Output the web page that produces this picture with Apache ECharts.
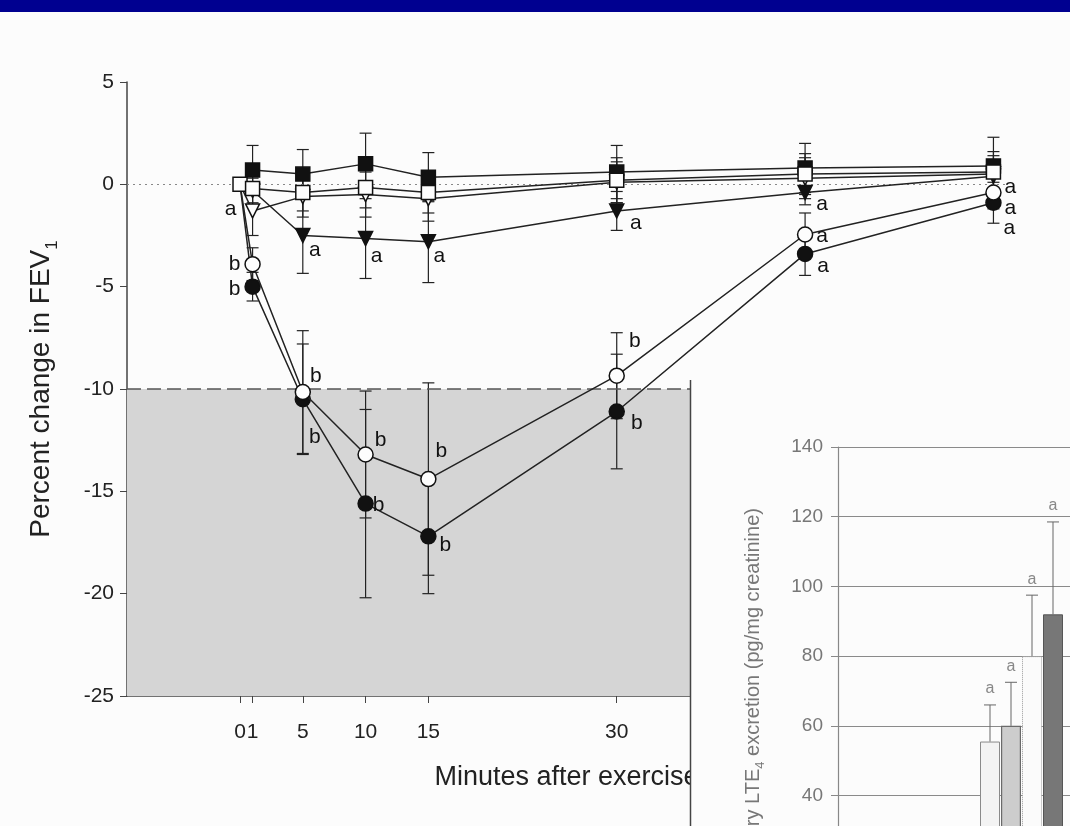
<!DOCTYPE html>
<html><head><meta charset="utf-8">
<script src="https://cdn.jsdelivr.net/npm/echarts@6/dist/echarts.min.js"></script>
<style>html,body{margin:0;padding:0;background:#fcfcfc}#c{width:1070px;height:826px}</style>
</head><body><div id="c"></div>
<script>
// ---------- DATA ----------
const minutes = [0, 1, 5, 10, 15, 30, 45, 60];
const xTickValues = [0, 1, 5, 10, 15, 30, 45, 60];

const filledSquare    = [0, 0.7, 0.5, 1.0, 0.35, 0.6, 0.8, 0.9];
const filledSquareErr = [0, 1.2, 1.2, 1.5, 1.2, 1.3, 1.2, 1.4];
const filledSquareSig = ['', '', '', '', '', '', '', ''];

const openSquare    = [0, -0.2, -0.4, -0.15, -0.4, 0.2, 0.5, 0.6];
const openSquareErr = [0, 0.8, 0.9, 1.0, 1.0, 1.1, 1.0, 1.0];
const openSquareSig = ['', '', '', '', '', '', '', ''];

const openTri    = [0, -1.3, -0.6, -0.5, -0.7, 0.1, 0.3, 0.5];
const openTriErr = [0, 1.2, 1.0, 1.1, 1.1, 1.0, 1.0, 0.9];
const openTriSig = ['', 'a', '', '', '', '', '', ''];

const filledTri    = [0, -0.3, -2.5, -2.65, -2.8, -1.3, -0.4, 0.4];
const filledTriErr = [0, 0.6, 1.85, 1.95, 2.0, 0.95, 0.6, 0.6];
const filledTriSig = ['', '', 'a', 'a', 'a', 'a', 'a', 'a'];

const openCircle    = [0, -3.9, -10.15, -13.2, -14.4, -9.35, -2.45, -0.4];
const openCircleErr = [0, 0.8, 3.0, 3.1, 4.7, 2.1, 1.05, 0.8];
const openCircleSig = ['', 'b', 'b', 'b', 'b', 'b', 'a', 'a'];

const filledCircle    = [0, -5.0, -10.5, -15.6, -17.2, -11.1, -3.4, -0.9];
const filledCircleErr = [0, 0.7, 2.7, 4.6, 2.8, 2.8, 1.05, 1.0];
const filledCircleSig = ['', 'b', 'b', 'b', 'b', 'b', 'a', 'a'];

const thresholdFEV = -10;

// inset bar chart
const insetCategories = ['Post-exercise'];
const insetValues = [55.5, 60, 80, 92];
const insetErr    = [10.5, 12.5, 17.5, 26.5];
const insetSig    = ['a', 'a', 'a', 'a'];

// ---------- STYLE / LAYOUT ----------
const FONT = 'Liberation Sans, Arial, sans-serif';
const labelOffsets = {
  openTri:      [null, [-22, -2], null, null, null, null, null, null],
  filledTri:    [null, null, [12, 15], [11, 18], [11, 15], [19, 12], [17, 12], [17, 11]],
  openCircle:   [null, [-18, 0], [13, -16], [15, -14], [13, -28], [18, -34], [17, 2], [17, 16]],
  filledCircle: [null, [-18, 3], [12, 38], [13, 2], [17, 9], [20, 12], [18, 12], [16, 25]]
};

function lineSeries(key, vals, sig, symbol, filled, rotate, z, hideFirst) {
  const offs = labelOffsets[key] || [];
  return {
    type: 'line', xAxisIndex: 0, yAxisIndex: 0, z: z,
    symbol: symbol, symbolSize: symbol === 'circle' ? 15 : 14, symbolRotate: rotate,
    itemStyle: { color: filled ? '#111' : '#fdfdfd', borderColor: '#111', borderWidth: 1.5 },
    lineStyle: { color: '#222', width: 1.5 },
    emphasis: { disabled: true }, animation: false,
    data: minutes.map((t, i) => {
      const d = { value: [t, vals[i]] };
      if (hideFirst && i === 0) d.symbol = 'none';
      if (sig[i]) {
        d.label = { show: true, formatter: sig[i], position: 'inside', offset: offs[i] || [14, 12],
          color: '#111', fontSize: 21, fontFamily: FONT, align: 'center', verticalAlign: 'middle' };
      }
      return d;
    })
  };
}

function errSeries(vals, errs, z) {
  return {
    type: 'custom', xAxisIndex: 0, yAxisIndex: 0, z: z, silent: true, animation: false,
    data: minutes.map((t, i) => [t, vals[i], errs[i]]),
    renderItem: function (params, api) {
      const x = api.value(0), y = api.value(1), e = api.value(2);
      if (!e) return null;
      const top = api.coord([x, y + e]), bot = api.coord([x, y - e]);
      const hw = 6, st = { stroke: '#222', lineWidth: 1.2 };
      return { type: 'group', children: [
        { type: 'line', shape: { x1: top[0], y1: top[1], x2: bot[0], y2: bot[1] }, style: st },
        { type: 'line', shape: { x1: top[0] - hw, y1: top[1], x2: top[0] + hw, y2: top[1] }, style: st },
        { type: 'line', shape: { x1: bot[0] - hw, y1: bot[1], x2: bot[0] + hw, y2: bot[1] }, style: st }
      ]};
    }
  };
}

const insetBarStyles = [
  { color: '#f3f3f3', borderColor: '#8a8a8a', borderWidth: 1 },
  { color: '#cdcdcd', borderColor: '#6a6a6a', borderWidth: 1.2 },
  { color: '#fbfbfb', borderColor: '#9a9a9a', borderWidth: 1, borderType: 'dotted' },
  { color: '#777777', borderColor: '#555555', borderWidth: 1 }
];
const INSET_BAR_W = 20, INSET_STEP = 21;

const chart = echarts.init(document.getElementById('c'), null, { renderer: 'canvas' });
const option = {
  backgroundColor: '#fcfcfc',
  animation: false,
  textStyle: { fontFamily: FONT },
  grid: [
    { left: 127, top: 82, width: 879, height: 614, outerBoundsMode: 'none' },
    { left: 838, top: 447, width: 367, height: 488, outerBoundsMode: 'none' }
  ],
  xAxis: [
    { type: 'value', gridIndex: 0, min: -9, max: 61,
      axisLine: { onZero: false, lineStyle: { color: '#444', width: 1.5 } },
      axisTick: { show: true, length: 7, customValues: xTickValues, lineStyle: { color: '#444' } },
      axisLabel: { customValues: xTickValues, fontSize: 21, color: '#222', margin: 26, fontFamily: FONT },
      splitLine: { show: false },
      name: 'Minutes after exercise', nameLocation: 'middle', nameGap: 68,
      nameTextStyle: { fontSize: 27, color: '#222', fontFamily: FONT } },
    { type: 'category', gridIndex: 1, data: insetCategories, z: 60,
      axisLine: { show: true, onZero: false, lineStyle: { color: '#888' } }, axisTick: { show: false },
      axisLabel: { show: false } }
  ],
  yAxis: [
    { type: 'value', gridIndex: 0, min: -25, max: 5, interval: 5,
      axisLine: { show: true, onZero: false, lineStyle: { color: '#444', width: 1.5 } },
      axisTick: { show: true, length: 7, lineStyle: { color: '#444' } },
      axisLabel: { fontSize: 21, color: '#222', margin: 13, fontFamily: FONT },
      splitLine: { show: false },
      name: 'Percent change in FEV{sub|1}', nameLocation: 'middle', nameGap: 72,
      nameTextStyle: { fontSize: 28, color: '#222', fontFamily: FONT,
        rich: { sub: { fontSize: 17, verticalAlign: 'bottom', lineHeight: 17, fontFamily: FONT, color: '#222', padding: [0, 0, -6, 0] } } } },
    { type: 'value', gridIndex: 1, min: 0, max: 140, interval: 20, z: 60,
      axisLine: { show: true, onZero: false, lineStyle: { color: '#888', width: 1.2 } },
      axisTick: { show: true, length: 7, lineStyle: { color: '#888' } },
      axisLabel: { fontSize: 19, color: '#777', margin: 15, fontFamily: FONT },
      splitLine: { show: true, lineStyle: { color: '#8a8a8a', width: 1.2 } },
      name: 'Urinary LTE{sub|4} excretion (pg/mg creatinine)', nameLocation: 'middle', nameGap: 75,
      nameTextStyle: { fontSize: 20, color: '#777', fontFamily: FONT,
        rich: { sub: { fontSize: 13, verticalAlign: 'bottom', lineHeight: 13, color: '#777', fontFamily: FONT, padding: [0, 0, -4, 0] } } } }
  ],
  graphic: [
    { type: 'rect', z: 100, shape: { x: 0, y: 0, width: 1070, height: 12 }, style: { fill: '#000090' } },
    { type: 'rect', z: 50, shape: { x: 690, y: 380, width: 380, height: 446 }, style: { fill: '#fcfcfc' } },
    { type: 'line', z: 51, shape: { x1: 690.5, y1: 380, x2: 690.5, y2: 826 }, style: { stroke: '#444', lineWidth: 1.5 } }
  ],
  series: [
    { type: 'line', xAxisIndex: 0, yAxisIndex: 0, z: 1, data: [], silent: true,
      markArea: { silent: true, itemStyle: { color: '#d5d5d5' },
        data: [[{ yAxis: -25 }, { yAxis: thresholdFEV }]] },
      markLine: { silent: true, symbol: 'none', label: { show: false },
        data: [
          { yAxis: thresholdFEV, lineStyle: { type: [14, 6], color: '#555', width: 1.5 } },
          { yAxis: 0, lineStyle: { type: [2, 4], color: '#888', width: 1.2 } }
        ] } },
    errSeries(filledCircle, filledCircleErr, 3),
    errSeries(openCircle, openCircleErr, 3),
    errSeries(filledTri, filledTriErr, 3),
    errSeries(openTri, openTriErr, 3),
    errSeries(filledSquare, filledSquareErr, 3),
    errSeries(openSquare, openSquareErr, 3),
    lineSeries('filledCircle', filledCircle, filledCircleSig, 'circle', true, 0, 4, true),
    lineSeries('openCircle', openCircle, openCircleSig, 'circle', false, 0, 5, true),
    lineSeries('filledTri', filledTri, filledTriSig, 'triangle', true, 180, 6, true),
    lineSeries('openTri', openTri, openTriSig, 'triangle', false, 180, 7, true),
    lineSeries('filledSquare', filledSquare, filledSquareSig, 'rect', true, 0, 8, true),
    lineSeries('openSquare', openSquare, openSquareSig, 'rect', false, 0, 9, false),
    // inset bars
    ...insetValues.map((v, i) => ({
      type: 'bar', xAxisIndex: 1, yAxisIndex: 1, z: 60, barWidth: INSET_BAR_W, barGap: '5%',
      itemStyle: insetBarStyles[i], silent: true, animation: false,
      data: [v]
    })),
    { type: 'custom', xAxisIndex: 1, yAxisIndex: 1, z: 61, silent: true, animation: false,
      data: insetValues.map((v, i) => [0, v, insetErr[i], i]),
      renderItem: function (params, api) {
        const v = api.value(1), e = api.value(2), k = api.value(3);
        const base = api.coord([api.value(0), v]);
        const top = api.coord([api.value(0), v + e]);
        const x = base[0] + (k - 1.5) * INSET_STEP;
        const st = { stroke: '#666', lineWidth: 1 };
        return { type: 'group', children: [
          { type: 'line', shape: { x1: x, y1: base[1], x2: x, y2: top[1] }, style: st },
          { type: 'line', shape: { x1: x - 6, y1: top[1], x2: x + 6, y2: top[1] }, style: st },
          { type: 'text', style: { text: insetSig[k], x: x, y: top[1] - 16, align: 'center', verticalAlign: 'middle',
            fill: '#888', fontSize: 16, fontFamily: FONT } }
        ]};
      } }
  ]
};
chart.setOption(option);
</script>
</body></html>
